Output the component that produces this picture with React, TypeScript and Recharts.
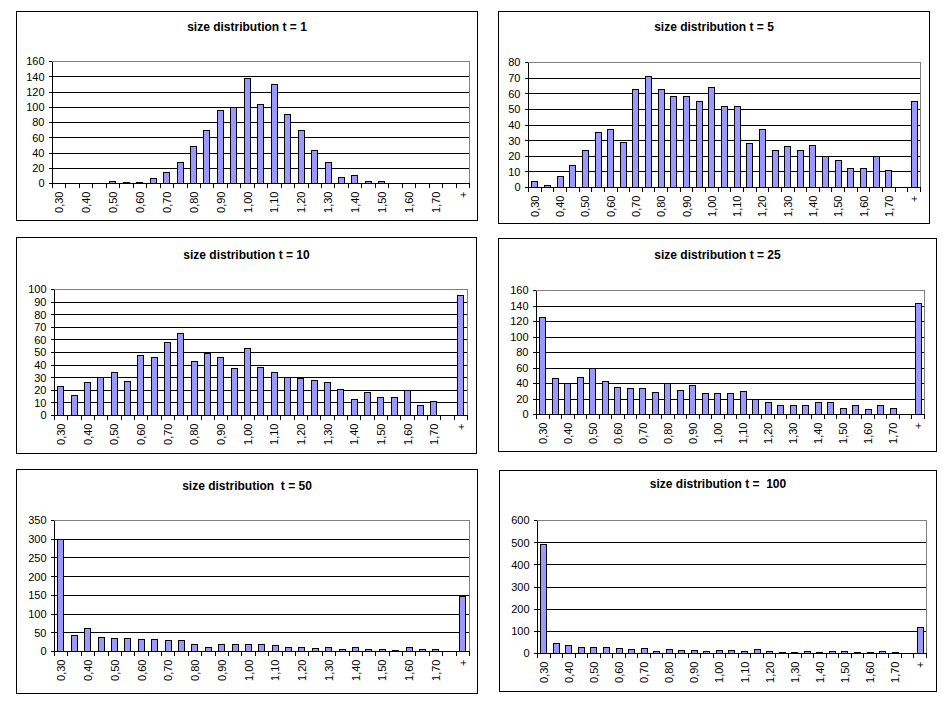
import React from 'react';
import { BarChart, Bar, XAxis, YAxis, CartesianGrid } from 'recharts';

const CATEGORIES = [
  '0,30', '0,35', '0,40', '0,45', '0,50', '0,55', '0,60', '0,65', '0,70', '0,75',
  '0,80', '0,85', '0,90', '0,95', '1,00', '1,05', '1,10', '1,15', '1,20', '1,25',
  '1,30', '1,35', '1,40', '1,45', '1,50', '1,55', '1,60', '1,65', '1,70', '1,75', '+',
];

const T1 = [0, 0, 0, 0, 2, 1, 1, 7, 15, 27, 49, 69, 96, 100, 138, 104, 130, 91, 69, 43, 28, 8, 10, 2, 2, 0, 0, 0, 0, 0, 0];
const T5 = [4, 1, 7, 14, 24, 35, 37, 29, 63, 71, 63, 58, 58, 55, 64, 52, 52, 28, 37, 24, 26, 24, 27, 20, 17, 12, 12, 20, 11, 0, 55];
const T10 = [23, 16, 26, 30, 34, 27, 48, 46, 58, 65, 43, 49, 46, 37, 53, 38, 34, 30, 29, 28, 26, 21, 13, 18, 14, 14, 20, 8, 11, 0, 95];
const T25 = [125, 47, 40, 48, 60, 42, 35, 33, 33, 29, 40, 31, 38, 27, 27, 27, 30, 19, 15, 11, 12, 12, 16, 15, 8, 11, 7, 11, 8, 0, 143];
const T50 = [298, 42, 61, 37, 34, 34, 31, 31, 29, 29, 18, 10, 18, 20, 18, 20, 15, 10, 10, 7, 10, 5, 10, 5, 5, 2, 10, 5, 5, 0, 148];
const T100 = [490, 45, 35, 27, 27, 27, 22, 18, 22, 10, 18, 14, 14, 10, 14, 14, 10, 18, 8, 5, 5, 8, 5, 8, 8, 5, 5, 8, 5, 0, 117];

const TICKS_160 = [0, 20, 40, 60, 80, 100, 120, 140, 160];
const TICKS_80 = [0, 10, 20, 30, 40, 50, 60, 70, 80];
const TICKS_100 = [0, 10, 20, 30, 40, 50, 60, 70, 80, 90, 100];
const TICKS_350 = [0, 50, 100, 150, 200, 250, 300, 350];
const TICKS_600 = [0, 100, 200, 300, 400, 500, 600];

const TITLES = [
  'size distribution t = 1',
  'size distribution t = 5',
  'size distribution t = 10',
  'size distribution t = 25',
  'size distribution  t = 50',
  'size distribution t =  100',
];

const FONT = '"Liberation Sans", Arial, sans-serif';

const PANELS = [
  { title: TITLES[0], values: T1, ticks: TICKS_160, frame: { l: 16, t: 11, r: 478, b: 221 }, plot: { l: 52, t: 61, r: 469, b: 183 }, titleY: 27 },
  { title: TITLES[1], values: T5, ticks: TICKS_80, frame: { l: 498, t: 11, r: 930, b: 224 }, plot: { l: 528, t: 62, r: 920, b: 187 }, titleY: 27 },
  { title: TITLES[2], values: T10, ticks: TICKS_100, frame: { l: 16, t: 237, r: 477, b: 454 }, plot: { l: 54, t: 289, r: 467, b: 415 }, titleY: 255 },
  { title: TITLES[3], values: T25, ticks: TICKS_160, frame: { l: 498, t: 238, r: 937, b: 452 }, plot: { l: 536, t: 290, r: 924, b: 414 }, titleY: 255 },
  { title: TITLES[4], values: T50, ticks: TICKS_350, frame: { l: 16, t: 469, r: 478, b: 694 }, plot: { l: 54, t: 520, r: 469, b: 651 }, titleY: 486 },
  { title: TITLES[5], values: T100, ticks: TICKS_600, frame: { l: 499, t: 470, r: 937, b: 692 }, plot: { l: 537, t: 520, r: 926, b: 653 }, titleY: 484 },
];

function XTick(props: any) {
  const { x, y, payload, index, band } = props;
  const i = typeof index === 'number' ? index : payload.index;
  const left = x - band / 2;
  const right = x + band / 2;
  const showLabel = i % 2 === 0;
  const ty = y + 8;
  return (
    <g>
      <line x1={left} y1={y} x2={left} y2={y + 4} stroke="#000" strokeWidth={1} />
      {i === CATEGORIES.length - 1 ? (
        <line x1={right} y1={y} x2={right} y2={y + 4} stroke="#000" strokeWidth={1} />
      ) : null}
      {showLabel ? (
        <text
          x={x + 4}
          y={ty}
          transform={`rotate(-90, ${x + 4}, ${ty})`}
          textAnchor="end"
          fontSize={11}
          fontFamily={FONT}
          fill="#000"
        >
          {payload.value}
        </text>
      ) : null}
    </g>
  );
}

function Panel({ cfg }: { cfg: any }) {
  const { frame, plot } = cfg;
  const data = CATEGORIES.map((c, i) => ({ cat: c, v: cfg.values[i] }));
  const fw = frame.r - frame.l;
  const fh = frame.b - frame.t;
  const band = (plot.r - plot.l) / CATEGORIES.length;
  const top = plot.t - frame.t + 0.5;
  const yw = plot.l - frame.l + 0.5;
  const right = frame.r - plot.r - 0.5;
  const xh = frame.b - plot.b - 0.5;
  const max = cfg.ticks[cfg.ticks.length - 1];
  return (
    <>
      <div
        style={{
          position: 'absolute',
          left: frame.l,
          top: frame.t,
          width: fw,
          height: fh,
          border: '1px solid #000',
          boxSizing: 'border-box',
          background: '#fff',
        }}
      />
      <div
        style={{
          position: 'absolute',
          left: frame.l,
          width: fw,
          top: cfg.titleY - 8,
          height: 16,
          lineHeight: '16px',
          textAlign: 'center',
          fontFamily: FONT,
          fontWeight: 'bold',
          fontSize: 12,
          whiteSpace: 'pre',
          color: '#000',
        }}
      >
        {cfg.title}
      </div>
      <div style={{ position: 'absolute', left: frame.l, top: frame.t, width: fw, height: fh }}>
        <BarChart
          width={fw}
          height={fh}
          data={data}
          margin={{ top, right, left: 0, bottom: 0 }}
          barCategoryGap="26%"
        >
          <CartesianGrid vertical={false} stroke="#000" />
          <XAxis
            dataKey="cat"
            type="category"
            interval={0}
            height={xh}
            tickLine={false}
            tickSize={0}
            tickMargin={0}
            axisLine={{ stroke: '#000' }}
            tick={(p: any) => <XTick {...p} band={band} />}
          />
          <YAxis
            width={yw}
            domain={[0, max]}
            ticks={cfg.ticks}
            interval={0}
            tickSize={4}
            tickMargin={4}
            axisLine={{ stroke: '#000' }}
            tickLine={{ stroke: '#000' }}
            tick={{ fontSize: 11, fill: '#000', fontFamily: FONT }}
          />
          <Bar dataKey="v" fill="#9999FF" stroke="#000" strokeWidth={1} isAnimationActive={false} />
        </BarChart>
      </div>
      <div
        style={{
          position: 'absolute',
          left: plot.l,
          top: plot.t,
          width: plot.r - plot.l + 1,
          height: plot.b - plot.t,
          borderTop: '1px solid #808080',
          borderRight: '1px solid #808080',
          boxSizing: 'border-box',
          pointerEvents: 'none',
        }}
      />
    </>
  );
}

export default function App() {
  return (
    <div
      style={{
        position: 'absolute',
        left: 0,
        top: 0,
        width: 949,
        height: 705,
        background: '#fff',
        overflow: 'hidden',
      }}
    >
      <style>{'.recharts-surface line, .recharts-surface path, .recharts-surface rect { shape-rendering: crispEdges; }'}</style>
      {PANELS.map((p, i) => (
        <Panel key={i} cfg={p} />
      ))}
    </div>
  );
}
